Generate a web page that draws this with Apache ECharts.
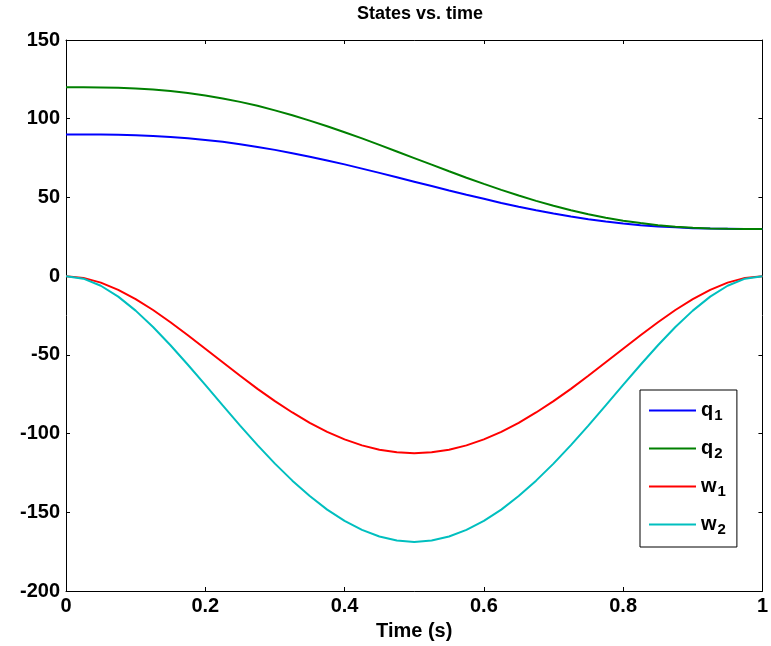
<!DOCTYPE html>
<html>
<head>
<meta charset="utf-8">
<script src="https://cdn.jsdelivr.net/npm/echarts@6/dist/echarts.min.js"></script>
<style>
  html, body { margin: 0; padding: 0; background: #fff; }
  #main { width: 771px; height: 646px; }
</style>
</head>
<body>
<div id="main"></div>
<script>
// time samples (s)
var time = [0, 0.025, 0.05, 0.075, 0.1, 0.125, 0.15, 0.175, 0.2, 0.225, 0.25,
  0.275, 0.3, 0.325, 0.35, 0.375, 0.4, 0.425, 0.45, 0.475, 0.5,
  0.525, 0.55, 0.575, 0.6, 0.625, 0.65, 0.675, 0.7, 0.725, 0.75,
  0.775, 0.8, 0.825, 0.85, 0.875, 0.9, 0.925, 0.95, 0.975, 1];
// states
var q1 = [90, 90, 89.9, 89.8, 89.5, 89, 88.4, 87.6, 86.5, 85.3, 83.8,
  82.1, 80.2, 78.1, 75.9, 73.5, 71, 68.3, 65.6, 62.8, 60,
  57.2, 54.4, 51.7, 49.1, 46.5, 44.1, 41.9, 39.8, 37.9, 36.2,
  34.7, 33.5, 32.4, 31.6, 31, 30.5, 30.2, 30.1, 30, 30];
var q2 = [120, 120, 119.9, 119.7, 119.2, 118.6, 117.6, 116.4, 114.8, 112.9, 110.7,
  108.2, 105.3, 102.2, 98.8, 95.2, 91.4, 87.5, 83.4, 79.2, 75,
  70.8, 66.6, 62.5, 58.6, 54.8, 51.2, 47.8, 44.7, 41.9, 39.3,
  37.1, 35.2, 33.7, 32.4, 31.4, 30.8, 30.3, 30.1, 30, 30];
var w1 = [0, -1.1, -4.1, -8.7, -14.6, -21.5, -29.3, -37.5, -46.1, -54.7, -63.3,
  -71.6, -79.4, -86.6, -93.2, -98.9, -103.7, -107.5, -110.3, -111.9, -112.5,
  -111.9, -110.3, -107.5, -103.7, -98.9, -93.2, -86.6, -79.4, -71.6, -63.3,
  -54.7, -46.1, -37.5, -29.3, -21.5, -14.6, -8.7, -4.1, -1.1, 0];
var w2 = [0, -1.6, -6.1, -13, -21.9, -32.3, -43.9, -56.3, -69.1, -82.1, -94.9,
  -107.3, -119.1, -129.9, -139.7, -148.3, -155.5, -161.2, -165.4, -167.9, -168.8,
  -167.9, -165.4, -161.2, -155.5, -148.3, -139.7, -129.9, -119.1, -107.3, -94.9,
  -82.1, -69.1, -56.3, -43.9, -32.3, -21.9, -13, -6.1, -1.6, 0];
var seriesNames = ['q1', 'q2', 'w1', 'w2'];
var seriesColors = ['#0000ff', '#008000', '#ff0000', '#00bfbf'];

var pairs = function (ys) {
  var out = [];
  for (var i = 0; i < time.length; i++) {
    out.push([time[i], ys[i]]);
  }
  return out;
};

var myChart = echarts.init(document.getElementById('main'));
var fontName = 'Liberation Sans, Arial';
var lblFont = {
  color: '#000',
  fontFamily: fontName,
  fontWeight: 'bold',
  fontSize: 20
};
var plainAxis = {
  axisLine: { show: true, onZero: false, lineStyle: { color: '#000', width: 1 } },
  axisTick: { show: true, inside: true, length: 4, lineStyle: { color: '#000' } },
  splitLine: { show: false }
};

var series = [];
var all = [q1, q2, w1, w2];
for (var k = 0; k < all.length; k++) {
  series.push({
    name: seriesNames[k],
    type: 'line',
    data: pairs(all[k]),
    showSymbol: false,
    symbol: 'none',
    color: seriesColors[k],
    lineStyle: { width: 2 }
  });
}

var option = {
  animation: false,
  title: {
    text: 'States vs. time',
    left: 415,
    textAlign: 'center',
    top: 0,
    textStyle: { fontFamily: fontName, fontWeight: 'bold', fontSize: 18, color: '#000' }
  },
  grid: { left: 66, right: 7, top: 40, bottom: 54 },
  legend: {
    orient: 'vertical',
    left: 640,
    top: 390,
    padding: [8, 11, 10, 9],
    itemGap: 13,
    itemWidth: 47,
    itemHeight: 2,
    icon: 'rect',
    borderColor: '#000',
    borderWidth: 1,
    borderRadius: 0,
    backgroundColor: '#fff',
    data: seriesNames,
    formatter: function (name) {
      return '{b|' + name.charAt(0) + '}{s|' + name.charAt(1) + '}';
    },
    textStyle: {
      rich: {
        b: { fontFamily: fontName, fontWeight: 'bold', fontSize: 20, color: '#000', lineHeight: 22 },
        s: { fontFamily: fontName, fontWeight: 'bold', fontSize: 15, color: '#000', lineHeight: 22, padding: [10, 0, 0, 1] }
      }
    }
  },
  xAxis: [
    Object.assign({}, plainAxis, {
      type: 'value', min: 0, max: 1, interval: 0.2, position: 'bottom',
      name: 'Time (s)', nameLocation: 'middle', nameGap: 30,
      nameTextStyle: lblFont,
      axisLabel: Object.assign({ margin: 5 }, lblFont)
    }),
    Object.assign({}, plainAxis, {
      type: 'value', min: 0, max: 1, interval: 0.2, position: 'top',
      axisLabel: { show: false }
    })
  ],
  yAxis: [
    Object.assign({}, plainAxis, {
      type: 'value', min: -200, max: 150, interval: 50, position: 'left',
      axisLabel: Object.assign({ margin: 6 }, lblFont)
    }),
    Object.assign({}, plainAxis, {
      type: 'value', min: -200, max: 150, interval: 50, position: 'right',
      axisLabel: { show: false }
    })
  ],
  series: series
};
myChart.setOption(option);
</script>
</body>
</html>
